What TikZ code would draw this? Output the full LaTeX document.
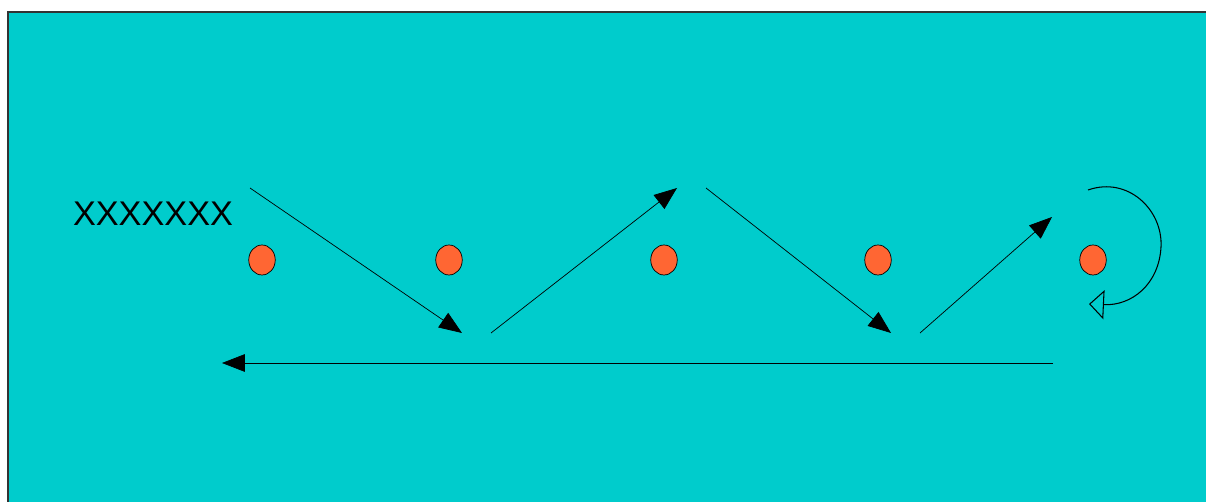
\documentclass[tikz,border=0pt]{standalone}
\usepackage{fontspec}
\setmainfont{Liberation Sans}
\usepackage{tikz}
\usetikzlibrary{arrows.meta, positioning, calc, shapes.geometric}
\definecolor{poolcolor}{RGB}{0,204,204}
\definecolor{conecolor}{RGB}{255,102,51}

\begin{document}
\begin{tikzpicture}[
    x=0.02cm, y=-0.02cm,
    cone/.style={ellipse, draw, thin, fill=conecolor, minimum width=0.53cm, minimum height=0.6cm, inner sep=0pt},
    run/.style={-{Triangle[length=13pt, width=10pt]}, thin, black},
    spin/.style={-{Triangle[open, length=8.5pt, width=16.5pt]}, semithick, black},
    label/.style={font=\fontsize{19.5}{22}\selectfont, text=black}
]
\useasboundingbox (0,0) rectangle (1206,502);
\clip (0,0) rectangle (1206,502);
\draw[fill=poolcolor, line width=0.6pt, draw=black!80] (8,12) rectangle (1220,520);

% cones
\node[cone] (c1) at (262,260) {};
\node[cone] (c2) at (449,260) {};
\node[cone] (c3) at (664,260) {};
\node[cone] (c4) at (878,260) {};
\node[cone] (c5) at (1093,260) {};

\node[label] (title) at (153,214) {XXXXXXX};

% path points
\coordinate (a0) at (250,188);
\coordinate (a1) at (462,333);
\coordinate (b0) at (491,333);
\coordinate (b1) at (677,188);
\coordinate (e0) at (706,188);
\coordinate (e1) at (891,333);
\coordinate (f0) at (920,333);
\coordinate (f1) at (1052,217);
\coordinate (g0) at (1053,363);
\coordinate (g1) at (222,363);
\coordinate (s0) at (1088,190);
\coordinate (s1) at (1161,247);
\coordinate (s2) at (1089,304);

\draw[run] (a0) -- (a1);
\draw[run] (b0) -- (b1);
\draw[run] (e0) -- (e1);
\draw[run] (f0) -- (f1);
\draw[run] (g0) -- (g1);
\draw[spin] (s0) .. controls (1128,176) and (1163,210) .. (s1)
                 .. controls (1159,284) and (1132,306) .. (s2);

\end{tikzpicture}
\end{document}
